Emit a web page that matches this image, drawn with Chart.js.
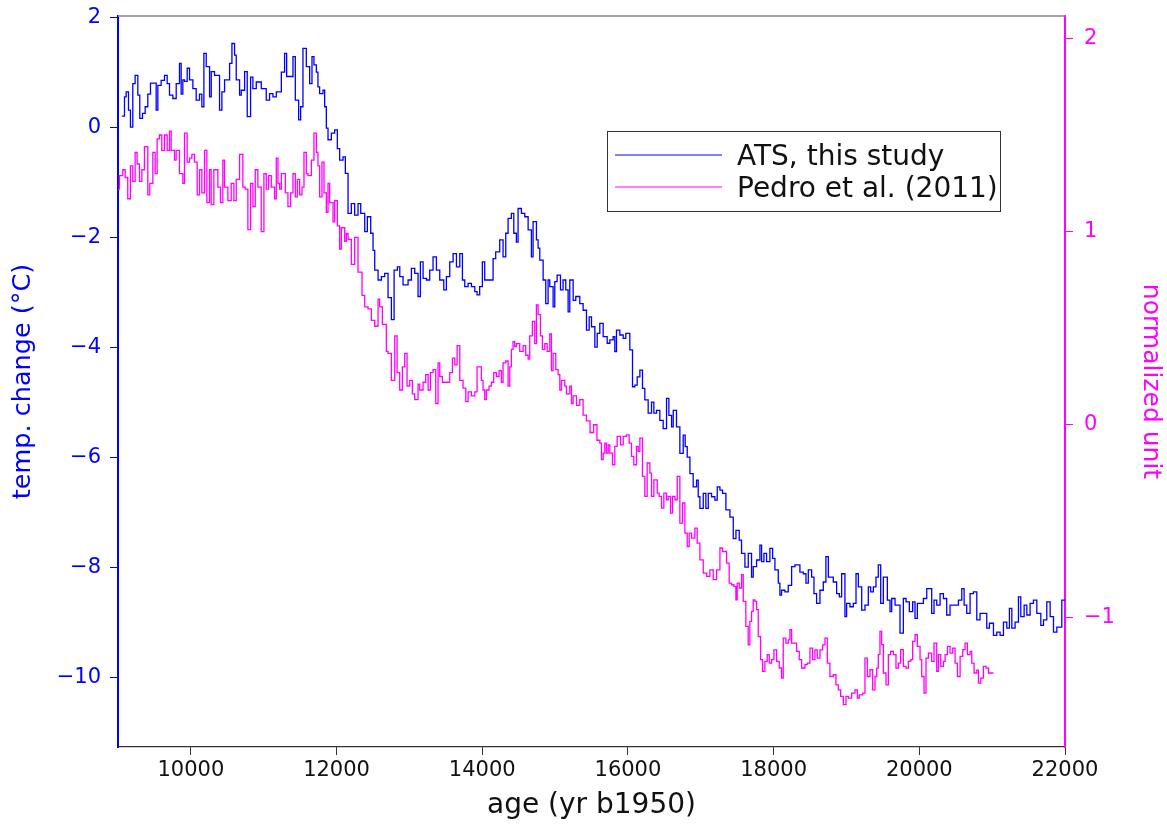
<!DOCTYPE html>
<html>
<head>
<meta charset="utf-8">
<script src="https://cdn.jsdelivr.net/npm/chart.js@4/dist/chart.umd.min.js"></script>
<style>
  html, body { margin: 0; padding: 0; background: #fff; }
  #wrap { width: 1167px; height: 829px; }
</style>
</head>
<body>
<div id="wrap"><canvas id="myChart" width="1167" height="829"></canvas></div>
<script>
// ATS temperature reconstruction (step series), age in yr b1950
const atsAge = [9052, 9089, 9112, 9144, 9171, 9203, 9235, 9272, 9299, 9336, 9373, 9409, 9446, 9524, 9547, 9592, 9638, 9675, 9707, 9753,
  9799, 9844, 9867, 9890, 9913, 9950, 9982, 10028, 10073, 10119, 10151, 10179, 10211, 10257, 10280, 10325, 10394, 10426, 10463, 10532,
  10564, 10600, 10623, 10669, 10692, 10738, 10774, 10820, 10852, 10898, 10967, 11035, 11081, 11127, 11173, 11242, 11287, 11315, 11402, 11434,
  11480, 11507, 11539, 11585, 11631, 11663, 11690, 11723, 11745, 11768, 11814, 11837, 11860, 11883, 11929, 11974, 12011, 12043, 12089, 12121,
  12158, 12203, 12249, 12295, 12332, 12387, 12423, 12469, 12501, 12524, 12570, 12616, 12661, 12707, 12753, 12790, 12835, 12868, 12913, 12982,
  13028, 13074, 13119, 13151, 13188, 13234, 13279, 13325, 13371, 13417, 13472, 13508, 13554, 13600, 13646, 13692, 13728, 13760, 13806, 13852,
  13898, 13929, 13965, 14002, 14034, 14149, 14185, 14240, 14286, 14323, 14355, 14400, 14433, 14469, 14492, 14538, 14584, 14630, 14675, 14698,
  14744, 14767, 14790, 14836, 14872, 14904, 14927, 14973, 14996, 15028, 15074, 15110, 15147, 15179, 15202, 15248, 15284, 15339, 15385, 15431,
  15468, 15500, 15546, 15578, 15614, 15660, 15715, 15752, 15797, 15820, 15843, 15889, 15935, 15971, 16026, 16063, 16095, 16127, 16164, 16200,
  16232, 16278, 16324, 16356, 16393, 16438, 16484, 16530, 16562, 16599, 16622, 16667, 16713, 16759, 16786, 16814, 16851, 16896, 16942, 16965,
  16988, 17034, 17070, 17103, 17148, 17194, 17226, 17263, 17299, 17345, 17400, 17446, 17483, 17528, 17560, 17606, 17652, 17697, 17720, 17766,
  17812, 17835, 17867, 17903, 17949, 17986, 18018, 18064, 18086, 18109, 18155, 18201, 18247, 18293, 18361, 18407, 18444, 18476, 18522, 18554,
  18590, 18636, 18682, 18718, 18751, 18819, 18865, 18902, 18934, 18979, 19002, 19048, 19094, 19131, 19163, 19209, 19254, 19300, 19332, 19369,
  19405, 19437, 19470, 19506, 19561, 19598, 19621, 19667, 19735, 19781, 19818, 19863, 19909, 19941, 19973, 20056, 20102, 20170, 20202, 20239,
  20285, 20331, 20376, 20422, 20537, 20583, 20615, 20651, 20697, 20743, 20789, 20834, 20926, 20963, 21018, 21063, 21109, 21155, 21201, 21237,
  21270, 21315, 21361, 21393, 21439, 21476, 21521, 21567, 21613, 21668, 21705, 21750, 21796, 21842, 21888, 21956, 22000];
const atsTemp = [0.2, 0.55, 0.64, 0.31, 0.0, 0.79, 0.94, 0.58, 0.16, 0.25, 0.37, 0.6, 0.8, 0.31, 0.76, 0.85, 0.94, 0.79, 0.58, 0.52,
  0.79, 1.16, 0.6, 0.86, 0.83, 1.07, 0.86, 0.7, 0.49, 0.6, 0.37, 1.34, 1.1, 0.55, 1.01, 0.94, 0.31, 0.64, 0.86, 1.16,
  1.52, 1.31, 0.86, 0.58, 0.67, 1.01, 0.19, 0.91, 0.7, 0.82, 0.7, 0.49, 0.61, 0.55, 0.64, 1.0, 1.34, 0.92, 1.28, 0.49,
  0.13, 0.37, 1.43, 1.1, 0.79, 1.28, 1.13, 1.0, 0.73, 0.61, 0.67, 0.37, -0.02, -0.23, -0.11, -0.05, -0.39, -0.6, -0.54, -0.84,
  -1.57, -1.39, -1.6, -1.39, -1.57, -1.9, -1.63, -1.93, -2.24, -2.6, -2.78, -2.72, -2.66, -3.1, -3.5, -2.6, -2.54, -2.72, -2.87, -2.78,
  -2.57, -2.66, -3.08, -2.45, -2.75, -2.78, -2.6, -2.36, -2.6, -2.78, -2.96, -2.72, -2.45, -2.3, -2.54, -2.3, -2.78, -2.9, -2.84, -2.9,
  -2.99, -3.05, -2.9, -2.45, -2.78, -2.39, -2.27, -2.05, -2.36, -1.93, -1.66, -1.57, -1.93, -2.09, -1.48, -1.57, -1.63, -1.87, -2.36, -1.72,
  -2.05, -2.2, -2.42, -2.78, -3.21, -2.78, -2.9, -3.27, -2.81, -2.69, -2.96, -2.78, -2.96, -3.36, -2.78, -3.15, -3.08, -3.21, -3.33, -3.69,
  -3.45, -3.63, -4.0, -3.75, -3.57, -3.81, -3.93, -3.87, -3.81, -4.08, -3.69, -3.78, -3.84, -3.75, -4.05, -4.72, -4.69, -4.54, -4.42, -4.75,
  -4.96, -5.2, -5.0, -5.2, -5.15, -5.33, -5.48, -4.93, -5.24, -5.45, -5.15, -5.45, -5.93, -5.6, -5.81, -6.0, -6.3, -6.54, -6.42, -6.72,
  -6.93, -6.66, -6.93, -6.66, -6.72, -6.78, -6.54, -6.6, -6.66, -6.96, -7.09, -7.48, -7.33, -7.51, -7.75, -8.0, -7.75, -8.18, -7.99, -7.87,
  -7.6, -7.9, -7.75, -7.9, -7.66, -7.84, -8.05, -8.29, -8.51, -8.42, -8.45, -8.33, -7.99, -7.96, -8.09, -8.12, -8.29, -8.05, -8.18, -8.48,
  -8.66, -8.42, -8.27, -7.81, -8.18, -8.27, -8.48, -8.54, -8.12, -8.9, -8.66, -8.72, -8.66, -8.12, -8.36, -8.78, -8.69, -8.36, -8.45, -8.36,
  -8.18, -7.96, -8.66, -8.18, -8.6, -8.81, -8.57, -8.69, -9.2, -8.57, -8.63, -8.81, -8.63, -8.93, -8.66, -8.57, -8.39, -8.84, -8.6, -8.69,
  -8.48, -8.57, -8.87, -8.69, -8.6, -8.39, -8.69, -8.84, -8.48, -8.45, -8.96, -8.84, -9.11, -9.02, -9.24, -9.18, -9.24, -9.0, -9.11, -8.75,
  -9.11, -9.0, -8.54, -8.9, -8.69, -8.87, -8.66, -8.6, -8.84, -9.06, -8.96, -8.63, -8.9, -9.18, -9.09, -8.6, -8.6];

// Pedro et al. (2011), normalized units
const pedroAge = [9000, 9020, 9066, 9098, 9134, 9171, 9203, 9235, 9262, 9295, 9327, 9363, 9409, 9436, 9478, 9510, 9537, 9569, 9601, 9638,
  9675, 9707, 9730, 9775, 9798, 9844, 9890, 9913, 9949, 9982, 10014, 10050, 10087, 10119, 10151, 10188, 10220, 10256, 10279, 10316,
  10371, 10407, 10439, 10462, 10508, 10554, 10591, 10623, 10669, 10714, 10746, 10783, 10820, 10852, 10884, 10920, 10966, 11003, 11035, 11067,
  11104, 11150, 11173, 11196, 11219, 11242, 11297, 11333, 11370, 11402, 11434, 11461, 11494, 11526, 11553, 11585, 11608, 11654, 11690, 11723,
  11745, 11768, 11800, 11828, 11860, 11883, 11906, 11952, 11974, 12011, 12043, 12066, 12112, 12135, 12158, 12203, 12249, 12295, 12350, 12387,
  12432, 12478, 12524, 12570, 12592, 12629, 12684, 12707, 12753, 12799, 12831, 12867, 12904, 12936, 12968, 13005, 13041, 13073, 13119, 13142,
  13188, 13224, 13257, 13289, 13325, 13362, 13394, 13417, 13453, 13499, 13554, 13591, 13623, 13655, 13692, 13737, 13774, 13806, 13852, 13898,
  13929, 13988, 14011, 14034, 14057, 14094, 14126, 14158, 14194, 14231, 14263, 14286, 14323, 14355, 14378, 14400, 14423, 14446, 14469, 14515,
  14561, 14597, 14630, 14652, 14689, 14721, 14744, 14767, 14799, 14826, 14859, 14891, 14927, 14950, 14973, 15010, 15042, 15065, 15088, 15133,
  15156, 15202, 15225, 15248, 15294, 15339, 15385, 15430, 15480, 15530, 15575, 15614, 15637, 15660, 15683, 15706, 15729, 15751, 15788, 15820,
  15852, 15898, 15935, 15980, 16017, 16049, 16081, 16118, 16141, 16164, 16200, 16232, 16264, 16301, 16324, 16356, 16402, 16429, 16461, 16493,
  16530, 16553, 16585, 16612, 16645, 16677, 16713, 16750, 16782, 16814, 16841, 16874, 16919, 16951, 16988, 17034, 17080, 17125, 17171, 17217,
  17263, 17299, 17354, 17390, 17422, 17454, 17482, 17500, 17528, 17560, 17583, 17619, 17651, 17674, 17697, 17720, 17743, 17766, 17789, 17821,
  17848, 17880, 17912, 17940, 17972, 18004, 18041, 18077, 18109, 18132, 18169, 18201, 18224, 18247, 18315, 18352, 18384, 18430, 18462, 18499,
  18535, 18567, 18599, 18636, 18673, 18705, 18737, 18773, 18819, 18856, 18888, 18920, 18957, 18993, 19025, 19071, 19117, 19149, 19176, 19222,
  19254, 19286, 19323, 19360, 19392, 19415, 19437, 19460, 19483, 19506, 19543, 19575, 19607, 19644, 19680, 19712, 19744, 19781, 19818, 19850,
  19882, 19909, 19941, 19973, 20010, 20033, 20065, 20092, 20125, 20170, 20202, 20239, 20262, 20294, 20331, 20354, 20386, 20422, 20459, 20491,
  20523, 20560, 20596, 20628, 20660, 20697, 20720, 20752, 20789, 20812, 20844, 20880, 20917, 20949, 21018];
const pedroNorm = [1.22, 1.29, 1.32, 1.28, 1.17, 1.34, 1.26, 1.41, 1.35, 1.26, 1.32, 1.44, 1.19, 1.25, 1.41, 1.30, 1.48, 1.50, 1.42, 1.50,
  1.42, 1.52, 1.42, 1.37, 1.42, 1.30, 1.25, 1.51, 1.36, 1.38, 1.40, 1.36, 1.19, 1.32, 1.20, 1.42, 1.15, 1.32, 1.14, 1.32,
  1.23, 1.15, 1.37, 1.23, 1.16, 1.25, 1.16, 1.27, 1.40, 1.23, 1.22, 1.01, 1.25, 1.13, 1.32, 1.23, 1.00, 1.30, 1.22, 1.29,
  1.23, 1.17, 1.38, 1.25, 1.22, 1.30, 1.20, 1.13, 1.20, 1.30, 1.18, 1.27, 1.19, 1.23, 1.41, 1.30, 1.29, 1.37, 1.51, 1.41,
  1.34, 1.18, 1.36, 1.20, 1.10, 1.25, 1.15, 1.05, 1.16, 1.03, 0.91, 1.02, 0.95, 0.99, 0.96, 0.83, 0.97, 0.79, 0.67, 0.61,
  0.60, 0.54, 0.51, 0.65, 0.61, 0.52, 0.38, 0.37, 0.23, 0.46, 0.27, 0.18, 0.30, 0.37, 0.20, 0.23, 0.16, 0.13, 0.21, 0.18,
  0.22, 0.26, 0.18, 0.27, 0.285, 0.11, 0.32, 0.25, 0.22, 0.22, 0.27, 0.345, 0.31, 0.41, 0.23, 0.19, 0.12, 0.17, 0.15, 0.17,
  0.30, 0.23, 0.18, 0.13, 0.18, 0.20, 0.22, 0.27, 0.25, 0.28, 0.22, 0.32, 0.33, 0.20, 0.30, 0.39, 0.43, 0.405, 0.42, 0.38,
  0.41, 0.36, 0.34, 0.46, 0.535, 0.42, 0.62, 0.57, 0.46, 0.39, 0.42, 0.38, 0.47, 0.28, 0.37, 0.285, 0.26, 0.18, 0.23, 0.20,
  0.16, 0.20, 0.11, 0.15, 0.10, 0.13, 0.05, 0.02, -0.04, 0.00, -0.08, -0.095, -0.18, -0.147, -0.095, -0.147, -0.104, -0.147, -0.207, -0.112,
  -0.06, -0.104, -0.06, -0.052, -0.095, -0.164, -0.207, -0.112, -0.138, -0.069, -0.267, -0.371, -0.198, -0.25, -0.371, -0.285, -0.354, -0.371, -0.431, -0.354,
  -0.388, -0.371, -0.457, -0.371, -0.388, -0.267, -0.509, -0.405, -0.561, -0.63, -0.561, -0.587, -0.535, -0.613, -0.699, -0.768, -0.785, -0.751, -0.802, -0.751,
  -0.638, -0.656, -0.716, -0.82, -0.828, -0.837, -0.906, -0.82, -0.845, -0.776, -0.914, -1.044, -1.139, -1.018, -0.966, -0.906, -0.914, -0.957, -1.096, -1.216,
  -1.277, -1.225, -1.19, -1.234, -1.216, -1.165, -1.225, -1.259, -1.311, -1.104, -1.13, -1.113, -1.061, -1.13, -1.173, -1.216, -1.259, -1.242, -1.234, -1.156,
  -1.216, -1.165, -1.208, -1.165, -1.139, -1.104, -1.234, -1.303, -1.294, -1.346, -1.372, -1.406, -1.449, -1.406, -1.415, -1.389, -1.372, -1.415, -1.398, -1.389,
  -1.208, -1.303, -1.268, -1.372, -1.303, -1.26, -1.19, -1.07, -1.138, -1.285, -1.346, -1.19, -1.173, -1.19, -1.26, -1.234, -1.164, -1.251, -1.26, -1.225,
  -1.216, -1.121, -1.087, -1.147, -1.216, -1.303, -1.389, -1.208, -1.182, -1.225, -1.13, -1.277, -1.19, -1.251, -1.225, -1.19, -1.147, -1.182, -1.156, -1.234,
  -1.303, -1.199, -1.164, -1.13, -1.19, -1.173, -1.234, -1.285, -1.27, -1.337, -1.311, -1.251, -1.26, -1.285, -1.285];

// tick labels
const ageTicks = [10000, 12000, 14000, 16000, 18000, 20000, 22000];
const tempTicks = [2, 0, -2, -4, -6, -8, -10];
const normTicks = [2, 1, 0, -1];

const BLUE = '#0000ff';
const MAGENTA = '#ff00ff';
const FONT = 'DejaVu Sans';

Chart.defaults.font.family = FONT;

const fmtMinus = v => (v < 0 ? '\u2212' + Math.abs(v) : String(v));
const toPoints = (xs, ys) => xs.map((x, i) => ({ x: x, y: ys[i] }));

// vertical axes: fixed width, no extra room for the end labels
const fixVertical = w => s => {
    s.width = w;
    s.paddingTop = 0;
    s.paddingBottom = 0;
};

// top spine and boxed legend, drawn like matplotlib does
const framePlugin = {
    id: 'frame',
    afterDraw(chart) {
        const { ctx, chartArea } = chart;
        ctx.save();
        ctx.strokeStyle = '#888';
        ctx.lineWidth = 1.5;
        ctx.beginPath();
        ctx.moveTo(chartArea.left, chartArea.top);
        ctx.lineTo(chartArea.right, chartArea.top);
        ctx.stroke();

        // legend box
        ctx.fillStyle = '#fff';
        ctx.fillRect(607.5, 131.5, 393, 80);
        ctx.strokeStyle = '#333';
        ctx.lineWidth = 1;
        ctx.strokeRect(607.5, 131.5, 393, 80);

        const entries = [
            { label: 'ATS, this study', color: BLUE, y: 155 },
            { label: 'Pedro et al. (2011)', color: MAGENTA, y: 187 }
        ];
        entries.forEach(e => {
            ctx.strokeStyle = e.color;
            ctx.lineWidth = 1.2;
            ctx.beginPath();
            ctx.moveTo(615, e.y);
            ctx.lineTo(722, e.y);
            ctx.stroke();
            ctx.fillStyle = '#111';
            ctx.font = '28px "' + FONT + '"';
            ctx.textBaseline = 'alphabetic';
            ctx.textAlign = 'left';
            ctx.fillText(e.label, 737, e.y + 9.5);
        });
        ctx.restore();
    }
};

const ctx = document.getElementById('myChart').getContext('2d');
const myChart = new Chart(ctx, {
    type: 'line',
    data: {
        datasets: [{
            label: 'ATS, this study',
            data: toPoints(atsAge, atsTemp),
            borderColor: BLUE,
            borderWidth: 1.3,
            stepped: true,
            pointRadius: 0,
            fill: false,
            yAxisID: 'y'
        }, {
            label: 'Pedro et al. (2011)',
            data: toPoints(pedroAge, pedroNorm),
            borderColor: MAGENTA,
            borderWidth: 1.3,
            stepped: true,
            pointRadius: 0,
            fill: false,
            yAxisID: 'y2'
        }]
    },
    options: {
        responsive: false,
        animation: false,
        devicePixelRatio: 1,
        layout: { padding: { top: 16, left: 0, right: 0, bottom: 0 } },
        plugins: {
            legend: { display: false },
            tooltip: { enabled: false }
        },
        scales: {
            x: {
                type: 'linear',
                position: 'bottom',
                min: 9000,
                max: 22000,
                afterBuildTicks: s => { s.ticks = ageTicks.map(v => ({ value: v })); },
                afterFit: s => { s.height = 82; s.paddingLeft = 0; s.paddingRight = 0; },
                grid: { drawOnChartArea: false, drawTicks: true, tickLength: 8, color: '#333' },
                border: { color: '#333', width: 1.2 },
                ticks: {
                    color: '#111',
                    font: { size: 21 },
                    padding: 3,
                    maxRotation: 0,
                    callback: v => String(v)
                },
                title: {
                    display: true,
                    text: 'age (yr b1950)',
                    color: '#111',
                    font: { size: 28 },
                    padding: { top: 0, bottom: 6 }
                }
            },
            y: {
                type: 'linear',
                position: 'left',
                min: -11.27,
                max: 2.02,
                afterBuildTicks: s => { s.ticks = tempTicks.map(v => ({ value: v })); },
                afterFit: fixVertical(118),
                grid: { drawOnChartArea: false, drawTicks: true, tickLength: 8, color: BLUE },
                border: { color: BLUE, width: 2 },
                ticks: { color: BLUE, font: { size: 21 }, padding: 9, callback: fmtMinus },
                title: {
                    display: true,
                    text: 'temp. change (°C)',
                    color: BLUE,
                    font: { size: 25.5 },
                    padding: { top: 8, bottom: 0 }
                }
            },
            y2: {
                type: 'linear',
                position: 'right',
                min: -1.668,
                max: 2.116,
                afterBuildTicks: s => { s.ticks = normTicks.map(v => ({ value: v })); },
                afterFit: fixVertical(102),
                grid: { drawOnChartArea: false, drawTicks: true, tickLength: 8, color: MAGENTA },
                border: { color: MAGENTA, width: 2 },
                ticks: { color: MAGENTA, font: { size: 21 }, padding: 11, callback: fmtMinus },
                title: {
                    display: true,
                    text: 'normalized unit',
                    color: MAGENTA,
                    font: { size: 25 },
                    padding: { top: 2, bottom: 0 }
                }
            }
        }
    },
    plugins: [framePlugin]
});
</script>
</body>
</html>
